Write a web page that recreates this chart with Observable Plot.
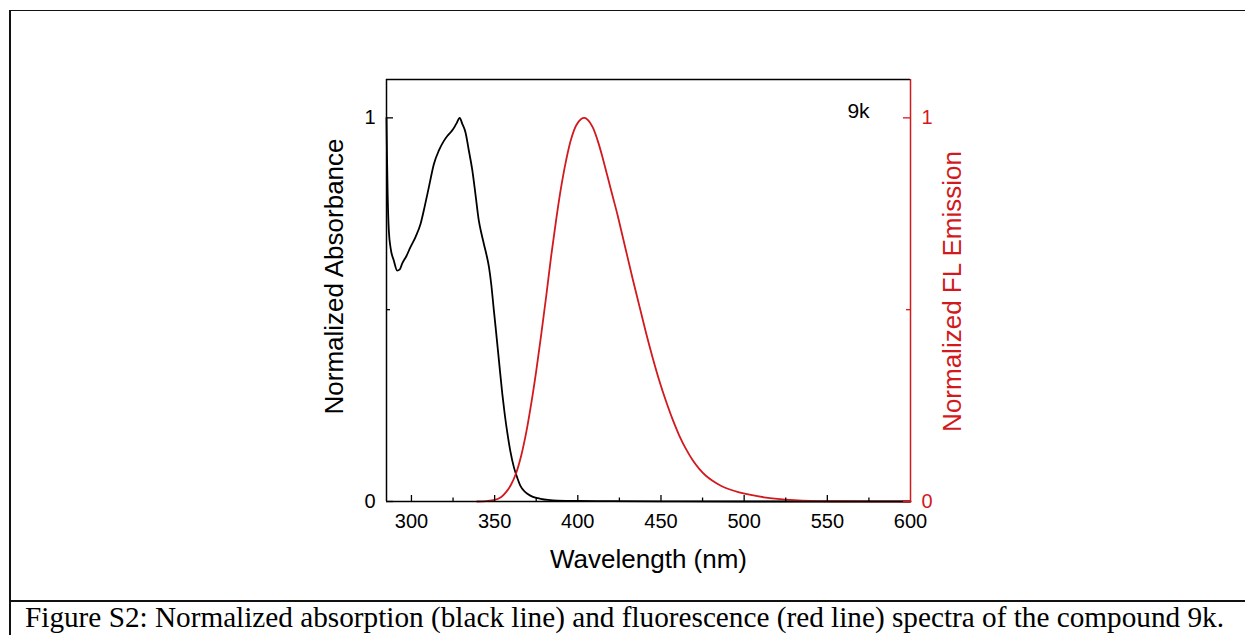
<!DOCTYPE html>
<html><head><meta charset="utf-8">
<script src="https://cdn.jsdelivr.net/npm/d3@7"></script>
<script src="https://cdn.jsdelivr.net/npm/@observablehq/plot@0.6"></script>
<style>
html,body{margin:0;padding:0;background:#fff;}
#wrap{position:relative;width:1245px;height:635px;overflow:hidden;background:#fff;}
#chart{position:absolute;left:0;top:0;}
.bt{position:absolute;background:#111;}
#caption{position:absolute;left:25px;top:602px;font-family:"Liberation Serif","Times New Roman",serif;font-size:30px;line-height:30px;white-space:nowrap;color:#000;transform-origin:0 0;}
</style></head>
<body><div id="wrap"><div id="chart"></div>
<div class="bt" style="left:9px;top:9.5px;width:1236px;height:1.5px"></div>
<div class="bt" style="left:9px;top:9.5px;width:1.5px;height:626px"></div>
<div class="bt" style="left:9px;top:600px;width:1236px;height:1.5px"></div>
<div id="caption">Figure S2: Normalized absorption (black line) and fluorescence (red line) spectra of the compound 9k.</div></div>
<script>
// ---- data ----
const absWl  = [285, 285.3, 285.7, 286.4, 287.5, 289.4, 291.4, 293, 294.4, 297, 299.4, 302.5, 305.5, 308, 310.5, 313.5, 316.5, 319.5, 322, 325, 327, 329, 330.5, 332.5, 334.5, 336.6, 338.5, 340.5, 342, 343.5, 345, 346.6, 348, 349.5, 350.6, 352.6, 354.6, 356, 357.6, 359.5, 361.6, 363.6, 365.6, 367.6, 369.7, 373, 377.7, 382, 387.7, 400, 420, 450, 500, 600];
const absVal = [1.0, 0.9, 0.8, 0.706, 0.66, 0.628, 0.602, 0.605, 0.62, 0.64, 0.663, 0.69, 0.724, 0.77, 0.82, 0.88, 0.915, 0.94, 0.955, 0.97, 0.985, 1.0, 0.985, 0.962, 0.915, 0.863, 0.80, 0.732, 0.70, 0.672, 0.645, 0.611, 0.565, 0.5, 0.454, 0.367, 0.281, 0.23, 0.18, 0.13, 0.089, 0.062, 0.04, 0.028, 0.02, 0.012, 0.007, 0.004, 0.002, 0.0015, 0.001, 0.0005, 0, 0];

const flWl  = [339.5, 345, 350, 354, 357, 360, 363, 366, 369, 372, 375, 378, 381, 384, 387, 390, 393, 396, 399, 402, 404, 406, 409, 412, 415, 418, 421, 424, 427, 430, 433, 437, 441, 445, 449, 453, 457, 461, 465, 469, 473, 477, 481, 486, 491, 497, 504, 512, 520, 530, 540, 555, 575, 600];
const flVal = [0, 0.001, 0.004, 0.012, 0.025, 0.045, 0.075, 0.12, 0.18, 0.255, 0.34, 0.435, 0.535, 0.64, 0.735, 0.82, 0.89, 0.945, 0.98, 0.997, 1.0, 0.995, 0.975, 0.94, 0.895, 0.845, 0.795, 0.745, 0.69, 0.635, 0.58, 0.51, 0.44, 0.375, 0.315, 0.262, 0.214, 0.172, 0.137, 0.108, 0.085, 0.067, 0.054, 0.041, 0.032, 0.024, 0.017, 0.011, 0.007, 0.0035, 0.0015, 0.0006, 0.0002, 0];

const xDomain = [285, 600];
const yDomain = [0, 1.1];
const xMajor = [300, 350, 400, 450, 500, 550];
const xMinor = [325, 375, 425, 475, 525, 575];
const xTickLabels = [300, 350, 400, 450, 500, 550, 600];
const yMajor = [0, 1];
const yMinor = [0.5];
const yTickLabels = [0, 1];
const xTitle = "Wavelength (nm)";
const yTitleLeft = "Normalized Absorbance";
const yTitleRight = "Normalized FL Emission";
const tag = "9k";

// ---- layout ----
const RED = "#d2191e";
const W = 1245, H = 600;
const mL = 386, mR = 335, mT = 79, mB = 99;
const frameW = W - mL - mR;
const frameH = H - mT - mB;

const absData = absWl.map((x, i) => ({x, y: absVal[i]}));
const flData = flWl.map((x, i) => ({x, y: flVal[i]}));
const fmt = d => String(d);

const chart = Plot.plot({
  width: W, height: H,
  marginLeft: mL, marginRight: mR, marginTop: mT, marginBottom: mB,
  style: {fontFamily: "'Liberation Sans', Arial, sans-serif", fontSize: "20px", color: "#000", background: "transparent", overflow: "visible"},
  x: {domain: xDomain, axis: null},
  y: {domain: yDomain, axis: null},
  marks: [
    Plot.line(absData, {x: "x", y: "y", stroke: "#000", strokeWidth: 1.8, curve: "monotone-x"}),
    Plot.line(flData, {x: "x", y: "y", stroke: RED, strokeWidth: 1.8, curve: "catmull-rom"}),
    Plot.ruleY([yDomain[0]], {stroke: "#000", strokeWidth: 1.5}),
    Plot.ruleY([yDomain[1]], {stroke: "#000", strokeWidth: 1.5}),
    Plot.ruleX([xDomain[0]], {stroke: "#000", strokeWidth: 1.5}),
    Plot.ruleX([xDomain[1]], {stroke: RED, strokeWidth: 1.5}),
    Plot.tickX(xMajor, {x: d => d, insetTop: frameH - 6, stroke: "#000", strokeWidth: 1.3}),
    Plot.tickX(xMinor, {x: d => d, insetTop: frameH - 3.5, stroke: "#000", strokeWidth: 1.3}),
    Plot.tickY(yMajor, {y: d => d, insetRight: frameW - 7, stroke: "#000", strokeWidth: 1.3}),
    Plot.tickY(yMinor, {y: d => d, insetRight: frameW - 4, stroke: "#000", strokeWidth: 1.3}),
    Plot.tickY(yMajor, {y: d => d, insetLeft: frameW - 7, stroke: RED, strokeWidth: 1.3}),
    Plot.tickY(yMinor, {y: d => d, insetLeft: frameW - 4, stroke: RED, strokeWidth: 1.3}),
    Plot.axisX(xTickLabels, {tickSize: 0, tickPadding: 12, fontSize: 20, label: null, tickFormat: fmt}),
    Plot.axisY(yTickLabels, {anchor: "left", tickSize: 0, tickPadding: 11, fontSize: 20, label: null, tickFormat: fmt}),
    Plot.axisY(yTickLabels, {anchor: "right", tickSize: 0, tickPadding: 11, fontSize: 20, label: null, tickFormat: fmt, color: RED}),
    Plot.text([xTitle], {text: d => d, frameAnchor: "bottom", dy: 66, lineAnchor: "bottom", textAnchor: "middle", fontSize: 26}),
    Plot.text([yTitleLeft], {text: d => d, frameAnchor: "left", dx: -44, dy: -14, rotate: -90, lineAnchor: "bottom", textAnchor: "middle", fontSize: 26}),
    Plot.text([yTitleRight], {text: d => d, frameAnchor: "right", dx: 50, dy: 1, rotate: -90, lineAnchor: "bottom", textAnchor: "middle", fontSize: 26, fill: RED}),
    Plot.text([tag], {text: d => d, frameAnchor: "top-right", dx: -52, dy: 38.5, lineAnchor: "bottom", textAnchor: "middle", fontSize: 21})
  ]
});
document.getElementById("chart").appendChild(chart);

function fitCaption() {
  const c = document.getElementById("caption");
  c.style.transform = "none";
  const w = c.getBoundingClientRect().width;
  if (w > 0) c.style.transform = `scaleX(${1199 / w})`;
}
fitCaption();
if (document.fonts && document.fonts.ready) document.fonts.ready.then(fitCaption);
</script>
</body></html>
